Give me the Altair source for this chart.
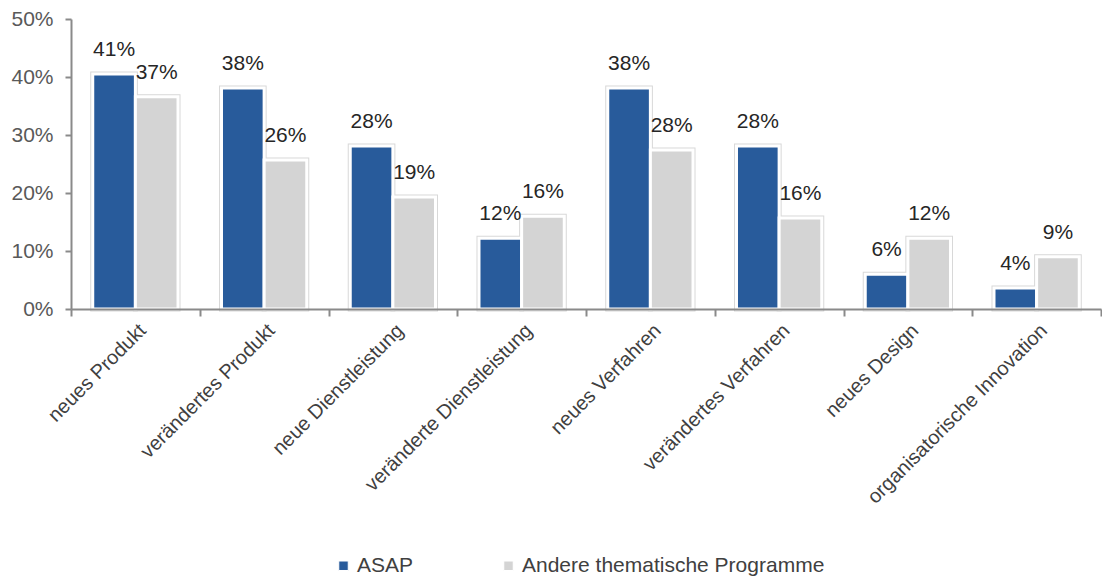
import altair as alt
import pandas as pd

categories = [
    "neues Produkt", "verändertes Produkt", "neue Dienstleistung",
    "veränderte Dienstleistung", "neues Verfahren", "verändertes Verfahren",
    "neues Design", "organisatorische Innovation",
]
series_names = ["ASAP", "Andere thematische Programme"]
asap_values = [0.405, 0.381, 0.281, 0.122, 0.381, 0.281, 0.060, 0.036]
andere_values = [0.366, 0.257, 0.193, 0.160, 0.274, 0.157, 0.122, 0.090]
asap_labels = ["41%", "38%", "28%", "12%", "38%", "28%", "6%", "4%"]
andere_labels = ["37%", "26%", "19%", "16%", "28%", "16%", "12%", "9%"]
colors = ["#285b9b", "#d4d4d4"]

rows = []
for i, c in enumerate(categories):
    rows.append({"cat": c, "series": series_names[0], "value": asap_values[i], "label": asap_labels[i]})
    rows.append({"cat": c, "series": series_names[1], "value": andere_values[i], "label": andere_labels[i]})
df = pd.DataFrame(rows)

FONT = "Liberation Sans"
AXIS_COLOR = "#8a8a8a"

x = alt.X(
    "cat:N", sort=categories, title=None,
    scale=alt.Scale(paddingInner=0, paddingOuter=0),
    axis=alt.Axis(
        labelAngle=-45, labelAlign="right", labelBaseline="top",
        labelFontSize=20, labelColor="#404040", labelFont=FONT,
        labelPadding=4, tickSize=7, tickBand="extent",
        domainColor=AXIS_COLOR, domainWidth=2, tickColor=AXIS_COLOR, tickWidth=2,
        labelLimit=400, zindex=1,
    ),
)
xo = alt.XOffset("series:N", sort=series_names,
                 scale=alt.Scale(paddingInner=0, paddingOuter=0.51))
y = alt.Y(
    "value:Q", title=None,
    scale=alt.Scale(domain=[0, 0.5], nice=False),
    axis=alt.Axis(
        values=[0, 0.1, 0.2, 0.3, 0.4, 0.5], format=".0%", grid=False,
        labelFontSize=21, labelColor="#595959", labelFont=FONT, labelPadding=12,
        tickSize=6, domainColor=AXIS_COLOR, domainWidth=2, tickColor=AXIS_COLOR, tickWidth=2,
        zindex=1,
    ),
)

base = alt.Chart(df).encode(x=x, xOffset=xo, y=y)

outline = base.mark_bar(fill="#d8d8d8", stroke="#d8d8d8", strokeWidth=5)
bars = base.mark_bar(stroke="white", strokeWidth=3).encode(
    color=alt.Color(
        "series:N", sort=series_names,
        scale=alt.Scale(domain=series_names, range=colors),
        legend=alt.Legend(
            title=None, orient="none", direction="horizontal",
            legendX=262, legendY=536,
            symbolType="square", symbolSize=90, symbolStrokeColor="white",
            symbolStrokeWidth=1, labelFontSize=21, labelColor="#404040",
            labelFont=FONT, columnPadding=84, labelOffset=3, labelLimit=500,
        ),
    )
)
text = base.mark_text(
    baseline="middle", dy=-24, fontSize=21, font=FONT, color="#262626"
).encode(text="label:N")

chart = (
    alt.layer(outline, bars, text)
    .properties(
        width=1030, height=290,
        padding={"left": 2, "top": 0, "right": 0, "bottom": 5},
    )
    .configure_view(stroke=None)
)

chart.save("out.html", embed_options={"renderer": "svg", "actions": False})
